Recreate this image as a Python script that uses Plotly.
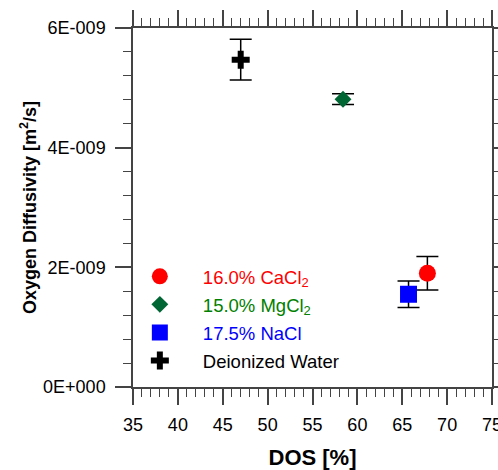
import plotly.graph_objects as go

# Data
series_names = ["16.0% CaCl<sub>2</sub>", "15.0% MgCl<sub>2</sub>", "17.5% NaCl", "Deionized Water"]
dos = [67.8, 58.4, 65.7, 47.0]
diffusivity = [1.90e-9, 4.81e-9, 1.55e-9, 5.47e-9]
err = [0.28e-9, 0.09e-9, 0.22e-9, 0.34e-9]
marker_symbols = ["circle", "diamond", "square", "cross"]
marker_colors = ["#ff0000", "#006633", "#0000ff", "#000000"]
text_colors = ["#ff0000", "#008000", "#0000ff", "#000000"]
marker_sizes = [17, 13, 17, 15]

y_tickvals = [0, 2e-9, 4e-9, 6e-9]
y_ticktext = ["0E+000", "2E-009", "4E-009", "6E-009"]
x_tickvals = [35, 40, 45, 50, 55, 60, 65, 70, 75]

fig = go.Figure()
for i in range(len(dos)):
    fig.add_trace(go.Scatter(
        x=[dos[i]], y=[diffusivity[i]],
        mode="markers",
        name=f'<span style="color:{text_colors[i]}">{series_names[i]}</span>',
        legendgroup=f"g{i}",
        marker=dict(symbol=marker_symbols[i], size=marker_sizes[i], color=marker_colors[i],
                    line=dict(width=0)),
        error_y=dict(type="data", array=[err[i]], visible=True, color="#000000",
                     thickness=1.5, width=11),
    ))

axis_color = "#444444"
fig.update_layout(
    width=498, height=470,
    margin=dict(l=133, r=6, t=28, b=83),
    paper_bgcolor="white", plot_bgcolor="white",
    font=dict(family="Liberation Sans, Arial, sans-serif", color="black", size=18),
    showlegend=True,
    legend=dict(x=-0.045, y=0.36, xanchor="left", yanchor="top",
                font=dict(size=18.5), itemwidth=76, tracegroupgap=1,
                bgcolor="rgba(0,0,0,0)", itemsizing="trace"),
    xaxis=dict(range=[35, 75], tickvals=x_tickvals, showgrid=False, zeroline=False,
               showline=True, linecolor=axis_color, linewidth=1.5, automargin=False,
               ticks="outside", ticklen=16, tickwidth=1.5, tickcolor=axis_color,
               mirror="allticks", ticklabelstandoff=5, ticklabeloverflow="allow",
               minor=dict(dtick=1, ticks="outside", ticklen=8, tickwidth=1.2, tickcolor=axis_color),
               title=dict(text="<b>DOS [%]</b>", font=dict(size=22), standoff=18)),
    yaxis=dict(range=[0, 6e-9], tickvals=y_tickvals, ticktext=y_ticktext, showgrid=False,
               zeroline=False, showline=True, linecolor=axis_color, linewidth=1.5, automargin=False,
               ticks="outside", ticklen=16, tickwidth=1.5, tickcolor=axis_color,
               mirror="allticks", ticklabelstandoff=6,
               minor=dict(dtick=0.4e-9, tick0=0, ticks="outside", ticklen=8, tickwidth=1.2, tickcolor=axis_color),
               title=dict(text="<b>Oxygen Diffusivity [m<sup>2</sup>/s]</b>", font=dict(size=18), standoff=2)),
)

fig.write_html("out.html", config={"displayModeBar": False},
               post_script="document.body.style.margin='0';")
